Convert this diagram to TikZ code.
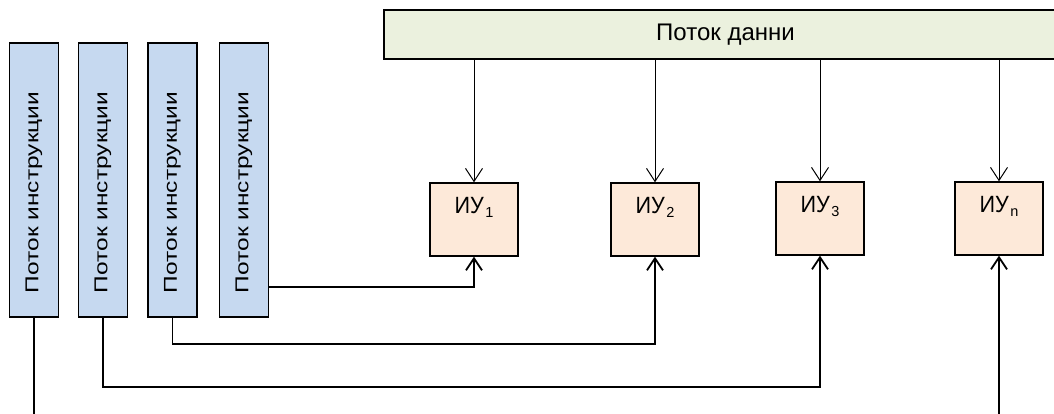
\documentclass[tikz,border=0pt]{standalone}
\usepackage{fontspec}
\setmainfont{Liberation Sans}
\usepackage{graphicx}
\usetikzlibrary{arrows.meta}

\definecolor{instfill}{HTML}{C6D9F0}
\definecolor{busfill}{HTML}{EBF1DE}
\definecolor{eufill}{HTML}{FDE9D9}

% vertical caption of an instruction stream
\newcommand\instext{\rotatebox{90}{\scalebox{1}[0.76]{\fontsize{24.5}{24.5}\selectfont Поток инструкции\hspace{25pt}}}}
% caption of an execution unit, raised towards the top edge
\newcommand\eulabel[1]{\raisebox{12pt}[\height][\depth]{\scalebox{0.92}[1]{\fontsize{23.5}{23.5}\selectfont ИУ}\hspace{1.5pt}\raisebox{-4.5pt}{\fontsize{14.5}{14.5}\selectfont #1}}}

\begin{document}
\begin{tikzpicture}[x=1pt,y=-1pt,
  instbox/.style={draw=black, line width=1.4pt, fill=instfill,
    minimum width=49pt, minimum height=274pt, inner sep=0pt},
  busbox/.style={draw=black, line width=1.4pt, fill=busfill,
    minimum width=683pt, minimum height=49pt, inner sep=0pt,
    font=\fontsize{24}{24}\selectfont},
  eubox/.style={draw=black, line width=1.4pt, fill=eufill,
    minimum width=88pt, minimum height=73pt, inner sep=0pt},
  feed/.style={line width=1pt, -{Straight Barb[length=13pt,width=17pt]}},
  link/.style={line width=1.8pt, -{Straight Barb[length=12pt,width=16pt]}},
  plain/.style={line width=1.8pt}]
\useasboundingbox (0,0) rectangle (1054,414);

% data bus, running past the right edge
\begin{scope}
  \clip (0,0) rectangle (1054,414);
  \node[busbox] (bus) at (725.5,34.5) {Поток данни};
\end{scope}

% instruction streams
\node[instbox] (i1) at (34,180) {\instext};
\node[instbox] (i2) at (103,180) {\instext};
\node[instbox] (i3) at (172.5,180) {\instext};
\node[instbox] (i4) at (244,180) {\instext};

% execution units
\node[eubox] (u1) at (474,219.5) {\eulabel{1}};
\node[eubox] (u2) at (655,219.5) {\eulabel{2}};
\node[eubox] (u3) at (820,218.5) {\eulabel{3}};
\node[eubox] (un) at (999,218.5) {\eulabel{n}};

% data into every unit
\foreach \u in {u1,u2,u3,un}
  \draw[feed] (bus.south -| \u.north) -- (\u.north);

% instructions into every unit
\draw[link] (i4.east |- 0,287) -| (u1.south);
\draw[link] (i3.south) -- (i3.south |- 0,344) -| (u2.south);
\draw[link] (i2.south) -- (i2.south |- 0,387) -| (u3.south);
\coordinate (i1end) at (i1.south |- 0,414);
\coordinate (unstart) at (un.south |- 0,414);
\draw[plain] (i1.south) -- (i1end);
\draw[link] (unstart) -- (un.south);
\end{tikzpicture}
\end{document}
